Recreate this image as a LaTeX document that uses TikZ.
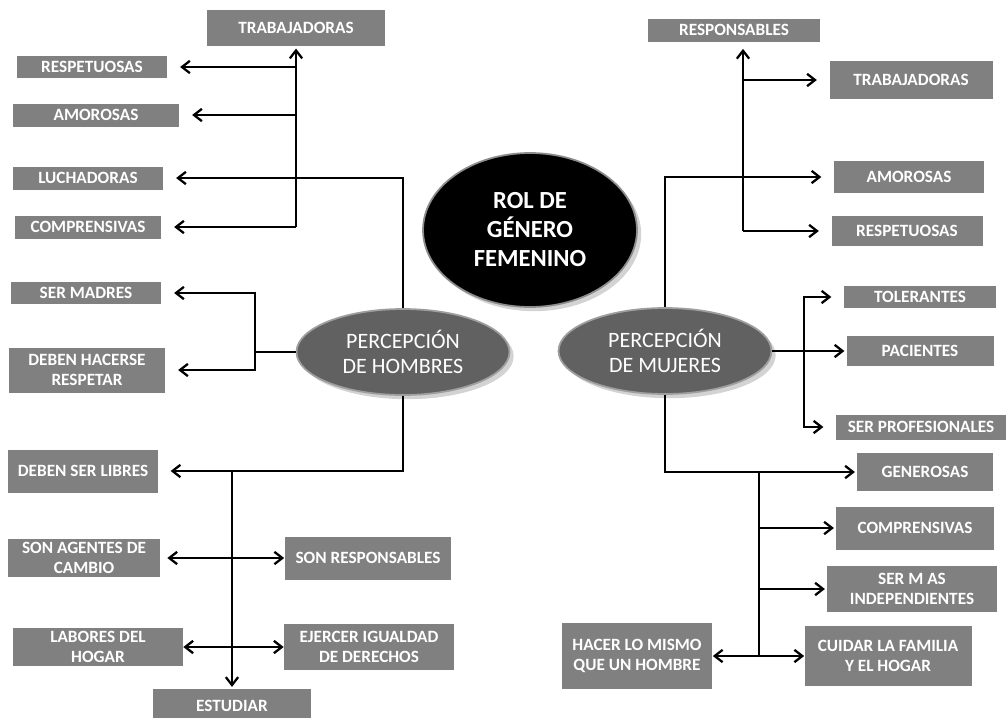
\documentclass[tikz,border=0pt]{standalone}
\usepackage{fontspec}
\setmainfont{Carlito}
\usetikzlibrary{arrows.meta,shapes.geometric,shadows}

\begin{document}
\begin{tikzpicture}[x=0.02cm,y=-0.02cm,
	caja/.style={fill=black!50, text=white, font=\bfseries\fontsize{9.8}{11.2}\selectfont, align=center, inner sep=0pt},
	percep/.style={ellipse, fill=black!62, draw=black!38, line width=1pt, text=white, font=\fontsize{12.5}{14.5}\selectfont, align=center, minimum width=4.26cm, minimum height=1.72cm, drop shadow={opacity=0.35}},
	rol/.style={ellipse, fill=black, draw=black!45, line width=1pt, text=white, font=\bfseries\fontsize{14}{16.5}\selectfont, align=center, minimum width=4.28cm, minimum height=3.08cm, drop shadow={opacity=0.35}},
	linea/.style={line width=1.3pt},
	flecha/.style={linea, -{Straight Barb[length=4.5pt,width=7pt]}, shorten >=1pt},
	doble/.style={linea, {Straight Barb[length=4.5pt,width=7pt]}-{Straight Barb[length=4.5pt,width=7pt]}},
	lejos/.style={shorten >=7pt}]
		\useasboundingbox (0,0) rectangle (1006,717);
		
		\node [rol] (rol) at (530,230) {ROL DE\\GÉNERO\\FEMENINO};
		\node [percep] (hom) at (403,352) {PERCEPCIÓN\\DE HOMBRES};
		\node [percep] (muj) at (665,351) {PERCEPCIÓN\\DE MUJERES};
		
		% percepcion de hombres
		\node [caja, minimum width=3.58cm, minimum height=0.74cm] (lTrab) at (296,28) {TRABAJADORAS};
		\node [caja, minimum width=3.02cm, minimum height=0.44cm] (lResp) at (92,67) {RESPETUOSAS};
		\node [caja, minimum width=3.34cm, minimum height=0.46cm] (lAmor) at (96,115) {AMOROSAS};
		\node [caja, minimum width=3.02cm, minimum height=0.46cm] (lLuch) at (88,178) {LUCHADORAS};
		\node [caja, minimum width=2.94cm, minimum height=0.46cm] (lComp) at (88,227) {COMPRENSIVAS};
		\node [caja, minimum width=3.02cm, minimum height=0.44cm] (lMadr) at (86,293) {SER MADRES};
		\node [caja, minimum width=3.14cm, minimum height=0.9cm] (lResq) at (87,370) {DEBEN HACERSE\\RESPETAR};
		\node [caja, minimum width=3.0cm, minimum height=0.86cm] (lLibr) at (83,471) {DEBEN SER LIBRES};
		\node [caja, minimum width=3.04cm, minimum height=0.76cm] (lAgen) at (84,558) {SON AGENTES DE\\CAMBIO};
		\node [caja, minimum width=3.34cm, minimum height=0.86cm] (lSonr) at (368,558) {SON RESPONSABLES};
		\node [caja, minimum width=3.4cm, minimum height=0.76cm] (lLabo) at (98,647) {LABORES DEL\\HOGAR};
		\node [caja, minimum width=3.4cm, minimum height=0.92cm] (lEjer) at (369,647) {EJERCER IGUALDAD\\DE DERECHOS};
		\node [caja, minimum width=3.18cm, minimum height=0.68cm] (lEstu) at (232,706) {ESTUDIAR};
		
		\draw [flecha] (lTrab.south |- lComp) -- (lTrab.south);
		\foreach \n in {lResp,lAmor,lComp}
			\draw [flecha,lejos] (lTrab.south |- \n) -- (\n.east);
		\draw [flecha,lejos] (hom.north) |- (lLuch.east);
		\coordinate (hSplit) at (255,352);
		\draw [linea] (hom.west) -- (hSplit);
		\draw [flecha,lejos] (hSplit) |- (lMadr.east);
		\draw [flecha,lejos] (hSplit) |- (lResq.east);
		\draw [flecha,lejos] (hom.south) |- (lLibr.east);
		\draw [flecha] (lEstu.north |- lLibr) -- (lEstu.north);
		\draw [doble, shorten <=4pt] (lAgen.east) -- (lSonr.west);
		\draw [doble] (lLabo.east) -- (lEjer.west);
		
		% percepcion de mujeres
		\node [caja, minimum width=3.44cm, minimum height=0.46cm] (rResp) at (734,30) {RESPONSABLES};
		\node [caja, minimum width=3.26cm, minimum height=0.76cm] (rTrab) at (911,80) {TRABAJADORAS};
		\node [caja, minimum width=3.0cm, minimum height=0.64cm] (rAmor) at (909,177) {AMOROSAS};
		\node [caja, minimum width=3.02cm, minimum height=0.6cm] (rRespe) at (907,231) {RESPETUOSAS};
		\node [caja, minimum width=3.04cm, minimum height=0.44cm] (rTole) at (920,297) {TOLERANTES};
		\node [caja, minimum width=2.94cm, minimum height=0.6cm] (rPaci) at (920,351) {PACIENTES};
		\node [caja, minimum width=3.4cm, minimum height=0.5cm] (rProf) at (921,427) {SER PROFESIONALES};
		\node [caja, minimum width=2.72cm, minimum height=0.76cm] (rGene) at (925,472) {GENEROSAS};
		\node [caja, minimum width=3.16cm, minimum height=0.86cm] (rComp) at (915,528) {COMPRENSIVAS};
		\node [caja, minimum width=3.4cm, minimum height=0.92cm] (rInde) at (912,589) {SER M AS\\INDEPENDIENTES};
		\node [caja, minimum width=3.34cm, minimum height=1.2cm] (rCuid) at (888,656) {CUIDAR LA FAMILIA\\Y EL HOGAR};
		\node [caja, minimum width=3.02cm, minimum height=1.32cm] (rHace) at (637,656) {HACER LO MISMO\\QUE UN HOMBRE};
		
		\coordinate (rV) at (743,231);
		\draw [flecha, shorten >=4pt] (rV) -- (rV |- rResp.south);
		\foreach \n in {rTrab,rRespe}
			\draw [flecha,lejos] (rV |- \n) -- (\n.west);
		\draw [flecha,lejos] (muj.north) |- (rAmor.west);
		\coordinate (mSplit) at (804,351);
		\draw [linea] (muj.east) -- (mSplit);
		\draw [flecha,lejos] (mSplit) |- (rTole.west);
		\draw [flecha] (mSplit) |- (rPaci.west);
		\draw [flecha,lejos] (mSplit) |- (rProf.west);
		\draw [flecha] (muj.south) |- (rGene.west);
		\coordinate (mV) at (759,472);
		\draw [linea] (mV) -- (mV |- rCuid);
		\draw [flecha] (mV |- rComp) -- (rComp.west);
		\draw [flecha] (mV |- rInde) -- (rInde.west);
		\draw [doble] (rHace.east) -- (rCuid.west);
\end{tikzpicture}
\end{document}
